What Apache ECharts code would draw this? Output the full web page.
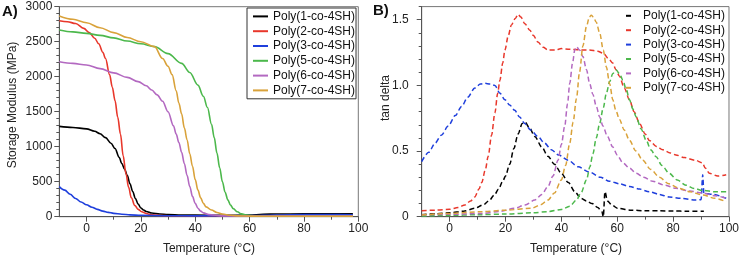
<!DOCTYPE html>
<html><head><meta charset="utf-8">
<script src="https://cdn.jsdelivr.net/npm/echarts@6/dist/echarts.min.js"></script>
<style>html,body{margin:0;padding:0;background:#fff}#c{width:742px;height:256px}</style>
</head><body><div id="c"></div>
<script>
// ---------- tick labels ----------
const tempLabels = [0, 20, 40, 60, 80, 100];
const tempMinor = [10, 30, 50, 70, 90];
const modLabels = [0, 500, 1000, 1500, 2000, 2500, 3000];
const modMinor = [100,200,300,400,600,700,800,900,1100,1200,1300,1400,1600,1700,1800,1900,2100,2200,2300,2400,2600,2700,2800,2900];
const tanLabels = [0, 0.5, 1.0, 1.5];
const tanMinor = [0.1,0.2,0.3,0.4,0.6,0.7,0.8,0.9,1.1,1.2,1.3,1.4,1.6];
const seriesNames = ['Poly(1-co-4SH)','Poly(2-co-4SH)','Poly(3-co-4SH)','Poly(5-co-4SH)','Poly(6-co-4SH)','Poly(7-co-4SH)'];
const colors = ['#000000','#e8372b','#1f3fdc','#4cb84c','#b369c1','#d9a23a'];

// ---------- A) storage modulus (MPa) vs temperature ----------
const mod1 = [[-10,1290],[-5,1275],[0,1255],[3,1220],[5,1185],[7,1130],[9,1050],[10.5,975],[12,850],[13,760],[14,680],[15,590],[16,470],[17,360],[18,260],[19,180],[20,125],[21,95],[22,75],[24,52],[27,38],[30,30],[35,25],[40,22],[50,20],[60,22],[65,35],[70,38],[80,40],[90,40],[98,40]];
const mod2 = [[-10,2800],[-7,2785],[-4,2760],[-1,2690],[1,2630],[3,2550],[4.5,2470],[6,2350],[7,2260],[8.5,2030],[9.5,1850],[10.5,1660],[11.5,1420],[12.5,1180],[13.5,870],[14.5,620],[15.5,420],[16.5,270],[17.8,160],[19,105],[20.3,70],[22,45],[24,28],[27,18],[30,14],[40,12],[60,12],[80,15],[98,15]];
const mod3 = [[-10,430],[-8,380],[-6,320],[-4,260],[-2,210],[0,170],[2,135],[4,105],[6,80],[8,62],[10,48],[13,35],[16,26],[20,20],[30,14],[40,12],[60,15],[70,25],[80,30],[90,30],[98,28]];
const mod5 = [[-10,2667],[-5,2640],[0,2619],[5,2590],[10,2555],[15,2510],[20,2470],[25,2429],[30,2330],[35,2190],[38,2060],[41,1880],[43,1720],[44.5,1560],[46,1320],[47,1130],[48,910],[49,700],[50,500],[51,350],[52,240],[53,165],[54,115],[55.5,70],[57,40],[59,22],[62,12],[70,10],[80,12],[98,12]];
const mod6 = [[-10,2214],[-5,2190],[0,2167],[5,2115],[10,2055],[15,1990],[19,1930],[22,1870],[24,1810],[26,1740],[28,1650],[30,1500],[32,1300],[33,1180],[34,1060],[35,920],[36,760],[37,590],[38,430],[39,290],[40,190],[41,120],[42,80],[43,55],[45,30],[50,12],[60,8],[98,8]];
const mod7 = [[-10,2867],[-5,2820],[0,2770],[5,2700],[10,2630],[15,2560],[20,2500],[25,2430],[28,2260],[30,2150],[31.5,2030],[33,1800],[34,1620],[35,1470],[36,1270],[37,1100],[38,900],[39,720],[40,530],[41,380],[42,270],[43,190],[44,140],[46,95],[48,60],[50,38],[53,20],[56,12],[60,8],[70,6],[98,6]];

// ---------- B) tan delta vs temperature ----------
const tan1 = [[-10,0.015],[-5,0.022],[0,0.03],[5,0.042],[9,0.064],[12,0.09],[14,0.12],[16,0.165],[17.5,0.21],[19,0.27],[20,0.31],[21.5,0.40],[23,0.52],[24.5,0.63],[26,0.71],[27,0.72],[28.5,0.68],[30.5,0.61],[33,0.53],[35.2,0.46],[37.5,0.40],[40,0.33],[42.5,0.26],[44.8,0.19],[47,0.14],[49,0.12],[51,0.10],[53,0.07],[54.5,0.04],[55,0.0],[55.6,0.19],[56.5,0.12],[58,0.09],[60,0.065],[65,0.05],[70,0.045],[75,0.045],[80,0.043],[85,0.042],[91,0.042]];
const tan2 = [[-10,0.046],[-5,0.05],[0,0.056],[3,0.07],[5.5,0.09],[7.5,0.12],[9,0.15],[10.5,0.21],[11.5,0.26],[12.8,0.36],[13.8,0.46],[15,0.62],[16.2,0.79],[17.2,0.94],[18,1.04],[19,1.17],[19.8,1.27],[21,1.38],[22.1,1.46],[23.5,1.51],[24.5,1.54],[25.5,1.52],[26.9,1.47],[28.7,1.42],[30,1.38],[31.6,1.33],[33.5,1.29],[35.2,1.27],[38,1.27],[40,1.28],[43,1.275],[47,1.27],[50,1.27],[53,1.26],[55,1.245],[57,1.2],[58.4,1.17],[59.5,1.12],[60.8,1.07],[62.5,0.98],[64.4,0.89],[66,0.8],[68,0.71],[70,0.63],[71.5,0.58],[74,0.535],[76.3,0.51],[79,0.485],[81,0.47],[84,0.45],[88,0.43],[90.5,0.41],[91.5,0.37],[93,0.33],[96,0.31],[99,0.32]];
const tan3 = [[-10,0.42],[-7.5,0.49],[-5.2,0.56],[-3,0.62],[-0.5,0.69],[2,0.77],[4.3,0.84],[6.5,0.91],[9,0.98],[11,1.01],[12.6,1.016],[14.5,1.01],[16.2,1.0],[18,0.94],[19.8,0.89],[21.5,0.85],[23.3,0.81],[25,0.76],[26.9,0.71],[29,0.66],[31.6,0.61],[34,0.56],[36.4,0.51],[39,0.47],[42.4,0.43],[46,0.38],[50,0.34],[54,0.3],[57.2,0.27],[61,0.25],[64.4,0.23],[68,0.21],[71.5,0.19],[75,0.17],[78.6,0.15],[83,0.14],[88,0.127],[90,0.13],[90.6,0.32],[91,0.18],[94,0.17],[99,0.14]];
const tan5 = [[-10,0.005],[0,0.01],[10,0.015],[20,0.02],[30,0.03],[35,0.038],[40,0.055],[43,0.08],[45.4,0.127],[47,0.18],[49,0.28],[50.2,0.38],[51.3,0.48],[52.5,0.6],[53.7,0.71],[55,0.83],[56.1,0.94],[57.3,1.03],[58.4,1.09],[59.6,1.117],[60.8,1.09],[62,1.04],[63.2,0.97],[64.4,0.89],[65.6,0.82],[66.8,0.76],[68.5,0.67],[70.4,0.58],[72,0.51],[73.9,0.457],[76,0.39],[78.6,0.33],[81.5,0.28],[84.6,0.24],[87.5,0.215],[90.6,0.2],[95,0.19],[99,0.19]];
const tan6 = [[-10,0.013],[0,0.018],[11.4,0.025],[18,0.04],[23.3,0.064],[27,0.09],[30.5,0.127],[33,0.17],[35.2,0.23],[37,0.31],[38.8,0.43],[40,0.55],[41.2,0.69],[42.2,0.86],[43,1.016],[44,1.17],[44.8,1.27],[45.4,1.295],[46.5,1.27],[47.7,1.22],[49,1.12],[50.1,1.016],[51.3,0.93],[52.5,0.84],[53.7,0.76],[54.9,0.69],[56.5,0.61],[58.4,0.53],[60,0.47],[62,0.41],[64.4,0.37],[66.8,0.33],[69.5,0.3],[72.7,0.27],[77,0.24],[81,0.216],[86,0.195],[90.6,0.18],[95,0.16],[99,0.14]];
const tan7 = [[-10,0.013],[0,0.025],[11.4,0.038],[20,0.05],[29.3,0.064],[32.5,0.09],[35.2,0.127],[37.5,0.18],[40,0.28],[41.5,0.39],[43,0.56],[44.2,0.72],[45.4,0.9],[46.5,1.1],[47.7,1.3],[49,1.45],[50,1.52],[50.7,1.535],[51.5,1.52],[52.5,1.48],[53.7,1.40],[55,1.27],[56.1,1.14],[57.3,1.01],[58.4,0.89],[59.5,0.81],[60.8,0.74],[62.5,0.66],[64.4,0.58],[66.7,0.5],[69.1,0.43],[72,0.36],[75.1,0.30],[78.5,0.25],[82.2,0.216],[86,0.19],[90.6,0.165],[95,0.14],[99,0.114]];

const modData = [mod1, mod2, mod3, mod5, mod6, mod7];
const tanData = [tan1, tan2, tan3, tan5, tan6, tan7];

const FONT = 'Liberation Sans, Arial, Helvetica, sans-serif';
const axisColor = '#555';
const labelStyle = {color:'#222', fontSize:12, fontFamily:FONT};

function xAxes(grid){
  return [
    {type:'value', gridIndex:grid, min:-10, max:100, position:'bottom',
     axisLine:{show:true, onZero:false, lineStyle:{color:axisColor, width:1}},
     axisTick:{show:true, customValues:tempLabels, length:5, lineStyle:{color:axisColor}},
     axisLabel:Object.assign({customValues:tempLabels, margin:6}, labelStyle),
     splitLine:{show:false}},
    {type:'value', gridIndex:grid, min:-10, max:100, position:'bottom',
     axisLine:{show:false, onZero:false}, axisTick:{show:true, customValues:tempMinor, length:3, lineStyle:{color:axisColor}},
     axisLabel:{show:false}, splitLine:{show:false}}
  ];
}
function yAxes(grid, max, labels, minor, fmt, margin){
  return [
    {type:'value', gridIndex:grid, min:0, max:max, position:'left',
     axisLine:{show:true, onZero:false, lineStyle:{color:axisColor, width:1}},
     axisTick:{show:true, customValues:labels, length:5, lineStyle:{color:axisColor}},
     axisLabel:Object.assign({customValues:labels, margin:margin, formatter:fmt}, labelStyle),
     splitLine:{show:false}},
    {type:'value', gridIndex:grid, min:0, max:max, position:'left',
     axisLine:{show:false, onZero:false}, axisTick:{show:true, customValues:minor, length:3, lineStyle:{color:axisColor}},
     axisLabel:{show:false}, splitLine:{show:false}}
  ];
}

const series = [];
seriesNames.forEach((n,i)=>{
  series.push({name:n, type:'line', xAxisIndex:0, yAxisIndex:0, data:modData[i], symbol:'none',
    smooth:0.35, smoothMonotone:'x', color:colors[i], lineStyle:{color:colors[i], width:1.6}, z:2+i});
});
seriesNames.forEach((n,i)=>{
  series.push({name:n+' ', type:'line', xAxisIndex:2, yAxisIndex:2, data:tanData[i], symbol:'none',
    smooth:0.3, smoothMonotone:'x', color:colors[i], lineStyle:{color:colors[i], width:1.5, type:[5,3]}, z:2+i});
});

const chart = echarts.init(document.getElementById('c'), null, {renderer:'canvas'});
chart.setOption({
  animation:false,
  backgroundColor:'#fff',
  grid:[
    {left:59.3, top:6.7, width:299, height:210, show:true, borderColor:'#777', borderWidth:1, backgroundColor:'transparent'},
    {left:421.7, top:6.6, width:307.6, height:210.1, show:true, borderColor:'#777', borderWidth:1, backgroundColor:'transparent'}
  ],
  xAxis:[].concat(xAxes(0), xAxes(1)),
  yAxis:[].concat(
    yAxes(0, 3000, modLabels, modMinor, v=>String(v), 7),
    yAxes(1, 1.6, tanLabels, tanMinor, v=>(v===0?'0':v.toFixed(1)), 13)
  ),
  legend:[
    {orient:'vertical', left:247, top:8, padding:[1,1,1,6], itemGap:0, itemWidth:15, itemHeight:2, icon:'rect',
     borderColor:'#333', borderWidth:1, backgroundColor:'#fff',
     data:seriesNames, textStyle:{color:'#111', fontSize:12, fontFamily:FONT, lineHeight:14.8}},
    {orient:'vertical', left:626, top:8.6, padding:0, itemGap:0, itemWidth:5, itemHeight:2, icon:'rect',
     data:seriesNames.map(n=>n+' '), formatter:n=>n.trim(),
     textStyle:{color:'#111', fontSize:12, fontFamily:FONT, lineHeight:14.4, padding:[0,0,0,7]}}
  ],
  graphic:[
    {type:'text', left:2, top:4, style:{text:'A)', font:'bold 15px '+FONT, fill:'#111'}},
    {type:'text', left:373, top:3, style:{text:'B)', font:'bold 15px '+FONT, fill:'#111'}},
    {type:'text', x:209, y:249, style:{text:'Temperature (°C)', font:'12px '+FONT, fill:'#222', align:'center', verticalAlign:'middle'}},
    {type:'text', x:576, y:249, style:{text:'Temperature (°C)', font:'12px '+FONT, fill:'#222', align:'center', verticalAlign:'middle'}},
    {type:'text', x:12.5, y:105, rotation:Math.PI/2, style:{text:'Storage Modulus (MPa)', font:'12px '+FONT, fill:'#222', align:'center', verticalAlign:'middle'}},
    {type:'text', x:386, y:98, rotation:Math.PI/2, style:{text:'tan delta', font:'12px '+FONT, fill:'#222', align:'center', verticalAlign:'middle'}}
  ],
  series:series
});
</script></body></html>
